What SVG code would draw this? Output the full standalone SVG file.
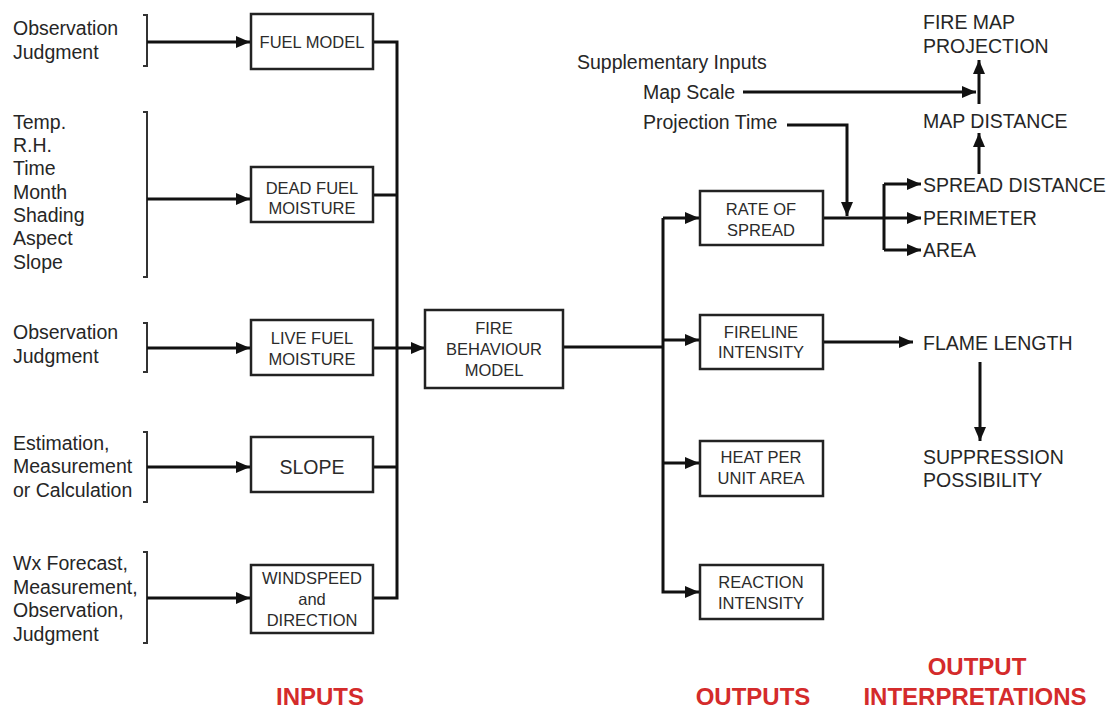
<svg xmlns="http://www.w3.org/2000/svg" width="1114" height="709" viewBox="0 0 1114 709">
  <defs>
    <marker id="arrow" markerUnits="userSpaceOnUse" markerWidth="15" markerHeight="13" refX="14" refY="6.5" orient="auto">
      <path d="M0,0.5 L14,6.5 L0,12.5 z" fill="#111"/>
    </marker>
    <style>
      .box { fill: #fff; stroke: #222; stroke-width: 2.5; }
      .bt { font-family: "Liberation Sans", Arial, sans-serif; font-size: 16.5px; fill: #2b2b2b; text-anchor: middle; }
      .src { font-family: "Liberation Sans", Arial, sans-serif; font-size: 19.5px; fill: #262626; }
      .out { font-family: "Liberation Sans", Arial, sans-serif; font-size: 19.5px; fill: #262626; }
      .hd { font-family: "Liberation Sans", Arial, sans-serif; font-size: 24px; font-weight: bold; fill: #d42b2b; text-anchor: middle; }
      .ln { fill: none; stroke: #111; stroke-width: 3; }
      .ar { fill: none; stroke: #111; stroke-width: 3; marker-end: url(#arrow); }
      .br { fill: none; stroke: #333; stroke-width: 2; }
    </style>
  </defs>
  <rect width="1114" height="709" fill="#fff"/>

  <!-- source lists with brackets -->
  <g id="src-fuel-model">
    <text class="src" x="13" y="35">Observation</text>
    <text class="src" x="13" y="59">Judgment</text>
    <path class="br" d="M143,15 H147 V66 H143"/>
  </g>
  <g id="src-dead-fuel">
    <text class="src" x="13" y="128.5">Temp.</text>
    <text class="src" x="13" y="152">R.H.</text>
    <text class="src" x="13" y="175">Time</text>
    <text class="src" x="13" y="198.5">Month</text>
    <text class="src" x="13" y="222">Shading</text>
    <text class="src" x="13" y="245">Aspect</text>
    <text class="src" x="13" y="268.5">Slope</text>
    <path class="br" d="M143,112 H147 V277 H143"/>
  </g>
  <g id="src-live-fuel">
    <text class="src" x="13" y="339">Observation</text>
    <text class="src" x="13" y="362.5">Judgment</text>
    <path class="br" d="M143,323 H147 V372 H143"/>
  </g>
  <g id="src-slope">
    <text class="src" x="13" y="450">Estimation,</text>
    <text class="src" x="13" y="473">Measurement</text>
    <text class="src" x="13" y="496.5">or Calculation</text>
    <path class="br" d="M143,432 H147 V502 H143"/>
  </g>
  <g id="src-wind">
    <text class="src" x="13" y="570">Wx Forecast,</text>
    <text class="src" x="13" y="593.5">Measurement,</text>
    <text class="src" x="13" y="617">Observation,</text>
    <text class="src" x="13" y="640.5">Judgment</text>
    <path class="br" d="M143,552 H147 V643 H143"/>
  </g>

  <!-- connectors -->
  <g id="connectors">
    <path class="ar" d="M147,42 H250"/>
    <path class="ar" d="M147,199 H250"/>
    <path class="ar" d="M147,348 H250"/>
    <path class="ar" d="M147,467 H250"/>
    <path class="ar" d="M147,598 H250"/>
    <path class="ln" d="M373,42 H397 V598 H373"/>
    <path class="ln" d="M373,195 H397"/>
    <path class="ln" d="M373,467 H397"/>
    <path class="ar" d="M373,348 H425"/>
    <path class="ln" d="M563,347 H663"/>
    <path class="ar" d="M663,218 V592 H699"/>
    <path class="ar" d="M663,218 H699"/>
    <path class="ar" d="M663,340 H699"/>
    <path class="ar" d="M663,463 H699"/>
    <path class="ar" d="M823,218 H921"/>
    <path class="ln" d="M884,184 V250"/>
    <path class="ar" d="M884,184 H921"/>
    <path class="ar" d="M884,250 H921"/>
    <path class="ar" d="M787,125 H847 V216"/>
    <path class="ar" d="M743,92 H976"/>
    <path class="ar" d="M979,104 V60"/>
    <path class="ar" d="M979,174 V133"/>
    <path class="ar" d="M823,342 H913"/>
    <path class="ar" d="M980,362 V441"/>
  </g>

  <!-- input boxes -->
  <g id="fuel-model">
    <rect class="box" x="251" y="14" width="122" height="55"/>
    <text class="bt" x="312" y="47.5">FUEL MODEL</text>
  </g>
  <g id="dead-fuel-moisture">
    <rect class="box" x="251" y="167" width="122" height="55"/>
    <text class="bt" x="312" y="193.5">DEAD FUEL</text>
    <text class="bt" x="312" y="214">MOISTURE</text>
  </g>
  <g id="live-fuel-moisture">
    <rect class="box" x="251" y="320" width="122" height="55"/>
    <text class="bt" x="312" y="343.5">LIVE FUEL</text>
    <text class="bt" x="312" y="364.5">MOISTURE</text>
  </g>
  <g id="slope">
    <rect class="box" x="251" y="437" width="122" height="55"/>
    <text class="bt" x="312" y="474" style="font-size:19.5px">SLOPE</text>
  </g>
  <g id="windspeed">
    <rect class="box" x="251" y="565" width="122" height="68"/>
    <text class="bt" x="312" y="583.5">WINDSPEED</text>
    <text class="bt" x="312" y="605">and</text>
    <text class="bt" x="312" y="625.5">DIRECTION</text>
  </g>

  <!-- model -->
  <g id="fire-behaviour-model">
    <rect class="box" x="425" y="310" width="138" height="78"/>
    <text class="bt" x="494" y="333.5">FIRE</text>
    <text class="bt" x="494" y="354.5">BEHAVIOUR</text>
    <text class="bt" x="494" y="375.5">MODEL</text>
  </g>

  <!-- outputs -->
  <g id="rate-of-spread">
    <rect class="box" x="700" y="191" width="123" height="54"/>
    <text class="bt" x="761" y="214.5">RATE OF</text>
    <text class="bt" x="761" y="235.5">SPREAD</text>
  </g>
  <g id="fireline-intensity">
    <rect class="box" x="700" y="315" width="123" height="54"/>
    <text class="bt" x="761" y="337.5">FIRELINE</text>
    <text class="bt" x="761" y="358">INTENSITY</text>
  </g>
  <g id="heat-per-unit-area">
    <rect class="box" x="700" y="441" width="123" height="55"/>
    <text class="bt" x="761" y="462.5">HEAT PER</text>
    <text class="bt" x="761" y="483.5">UNIT AREA</text>
  </g>
  <g id="reaction-intensity">
    <rect class="box" x="700" y="565" width="123" height="54"/>
    <text class="bt" x="761" y="587.5">REACTION</text>
    <text class="bt" x="761" y="608.5">INTENSITY</text>
  </g>

  <!-- supplementary inputs -->
  <g id="supplementary">
    <text class="src" x="577" y="68.5">Supplementary Inputs</text>
    <text class="src" x="643" y="98.5">Map Scale</text>
    <text class="src" x="643" y="128.5">Projection Time</text>
  </g>

  <!-- output interpretations -->
  <g id="fire-map-projection">
    <text class="out" x="923" y="29">FIRE MAP</text>
    <text class="out" x="923" y="52.5">PROJECTION</text>
  </g>
  <g id="map-distance"><text class="out" x="923" y="128">MAP DISTANCE</text></g>
  <g id="spread-distance"><text class="out" x="923" y="192">SPREAD DISTANCE</text></g>
  <g id="perimeter"><text class="out" x="923" y="225">PERIMETER</text></g>
  <g id="area"><text class="out" x="923" y="257">AREA</text></g>
  <g id="flame-length"><text class="out" x="923" y="350">FLAME LENGTH</text></g>
  <g id="suppression">
    <text class="out" x="923" y="464">SUPPRESSION</text>
    <text class="out" x="923" y="487">POSSIBILITY</text>
  </g>

  <!-- section headings -->
  <g id="headings">
    <text class="hd" x="320" y="705">INPUTS</text>
    <text class="hd" x="753" y="705">OUTPUTS</text>
    <text class="hd" x="977" y="675">OUTPUT</text>
    <text class="hd" x="975" y="705">INTERPRETATIONS</text>
  </g>
</svg>
